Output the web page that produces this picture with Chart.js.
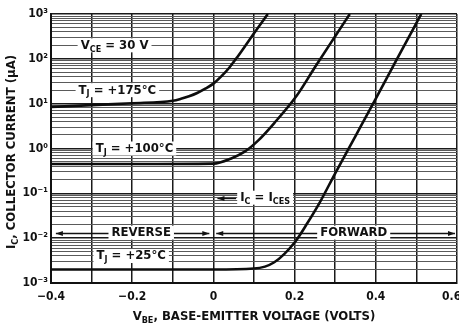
<!DOCTYPE html>
<html>
<head>
<meta charset="utf-8">
<script src="https://cdn.jsdelivr.net/npm/chart.js@4/dist/chart.umd.min.js"></script>
<style>
  html, body { margin: 0; padding: 0; background: #fff; }
  #wrap { width: 459px; height: 324px; }
</style>
</head>
<body>
<div id="wrap"><canvas id="chart" width="459" height="324"></canvas></div>
<script>
// Collector cutoff current I_C versus base-emitter voltage V_BE at V_CE = 30 V,
// one curve per junction temperature.
const vbe175 = [-0.4, -0.3, -0.2, -0.1, -0.08, -0.06, -0.04, -0.02, 0, 0.02, 0.04, 0.06, 0.08, 0.1, 0.134];
const ic175  = [8.4, 9.3, 10.2, 11.6, 12.8, 14.6, 17.3, 21.6, 28, 41, 65, 113, 204, 372, 1000];

const vbe100 = [-0.4, -0.2, 0, 0.044, 0.077, 0.11, 0.15, 0.205, 0.25, 0.3, 0.336];
const ic100  = [0.45, 0.45, 0.46, 0.6, 0.85, 1.5, 3.7, 15, 65, 320, 1000];

const vbe25  = [-0.4, 0, 0.1, 0.15, 0.2, 0.232, 0.26, 0.3, 0.35, 0.4, 0.45, 0.512];
const ic25   = [0.002, 0.002, 0.0021, 0.0029, 0.008, 0.022, 0.058, 0.28, 1.9, 13, 91, 1000];

// Axis ticks
const yDecades      = [1e-3, 1e-2, 1e-1, 1e0, 1e1, 1e2, 1e3];
const yDecadeLabels = ['10\u207B\u00B3', '10\u207B\u00B2', '10\u207B\u00B9', '10\u2070', '10\u00B9', '10\u00B2', '10\u00B3'];
const yMinorSteps   = [2, 3, 4, 5, 6, 7, 8, 9];
const xLabelValues  = [-0.4, -0.2, 0, 0.2, 0.4, 0.6];
// the last label is padded on its right so it sits inside the canvas edge
const xLabelTexts   = ['\u22120.4', '\u22120.2', '0', '0.2', '0.4', '0.6\u2002\u2002'];

const FAMILY = "'Liberation Sans Narrow', 'DejaVu Sans Condensed', 'Arial Narrow', sans-serif";
const INK = '#111';

function font(size) { return 'bold ' + size + 'px ' + FAMILY; }

function toPoints(xs, ys) { return xs.map((x, i) => ({ x: x, y: ys[i] })); }

function isDecade(v) { return Math.abs(Math.log10(v) - Math.round(Math.log10(v))) < 1e-9; }

// Text made of runs, some of them subscripted
function richWidth(ctx, parts, size) {
  let w = 0;
  for (const [t, sub] of parts) {
    ctx.font = font(sub ? Math.round(size * 0.72) : size);
    w += ctx.measureText(t).width;
  }
  return w;
}
function drawRich(ctx, parts, x, y, size) {
  let cx = x;
  ctx.textAlign = 'left';
  ctx.textBaseline = 'middle';
  for (const [t, sub] of parts) {
    ctx.font = font(sub ? Math.round(size * 0.72) : size);
    ctx.fillText(t, cx, sub ? y + size * 0.3 : y);
    cx += ctx.measureText(t).width;
  }
}

// Labels inside the plot, anchored at their left edge in data units
const notes = [
  { parts: [['V'], ['CE', 1], [' = 30 V']],        vbe: -0.327, ic: 200 },
  { parts: [['T'], ['J', 1], [' = +175\u00B0C']],   vbe: -0.332, ic: 20 },
  { parts: [['T'], ['J', 1], [' = +100\u00B0C']],   vbe: -0.290, ic: 1 },
  { parts: [['I'], ['C', 1], [' = I'], ['CES', 1]], vbe: 0.066,  ic: 0.08 },
  { parts: [['REVERSE']],                           vbe: -0.251, ic: 0.0133 },
  { parts: [['FORWARD']],                           vbe: 0.263,  ic: 0.0133 },
  { parts: [['T'], ['J', 1], [' = +25\u00B0C']],    vbe: -0.288, ic: 0.004 }
];
// Arrows: from -> to, with heads at the listed ends
const arrows = [
  { from: 0.056,  to: 0.010, ic: 0.078,  heads: ['to'] },
  { from: -0.388, to: -0.010, ic: 0.0133, heads: ['from', 'to'] },
  { from: 0.007,  to: 0.595, ic: 0.0133, heads: ['from', 'to'] }
];

function arrowHead(ctx, x, y, dir) {
  ctx.beginPath();
  ctx.moveTo(x, y);
  ctx.lineTo(x - dir * 7, y - 2.6);
  ctx.lineTo(x - dir * 7, y + 2.6);
  ctx.closePath();
  ctx.fill();
}

const notesPlugin = {
  id: 'notes',
  beforeDatasetsDraw(chart) {
    const ctx = chart.ctx, xs = chart.scales.x, ys = chart.scales.y;
    ctx.save();
    ctx.strokeStyle = INK;
    ctx.fillStyle = INK;
    ctx.lineWidth = 1.4;
    for (const a of arrows) {
      const x1 = xs.getPixelForValue(a.from), x2 = xs.getPixelForValue(a.to);
      const y = Math.round(ys.getPixelForValue(a.ic)) + 0.5;
      ctx.beginPath(); ctx.moveTo(x1, y); ctx.lineTo(x2, y); ctx.stroke();
      if (a.heads.includes('to')) arrowHead(ctx, x2, y, Math.sign(x2 - x1));
      if (a.heads.includes('from')) arrowHead(ctx, x1, y, Math.sign(x1 - x2));
    }
    const size = 13;
    for (const n of notes) {
      const x = xs.getPixelForValue(n.vbe);
      const y = ys.getPixelForValue(n.ic);
      const w = richWidth(ctx, n.parts, size);
      ctx.fillStyle = '#fff';
      ctx.fillRect(x - 3, y - 7, w + 6, 14);
      ctx.fillStyle = INK;
      drawRich(ctx, n.parts, x, y, size);
    }
    ctx.restore();
  },
  afterDraw(chart) {
    const ctx = chart.ctx, area = chart.chartArea;
    ctx.save();
    ctx.fillStyle = INK;
    const size = 13;
    const xt = [['V'], ['BE', 1], [', BASE-EMITTER VOLTAGE (VOLTS)']];
    const wx = richWidth(ctx, xt, size);
    drawRich(ctx, xt, (area.left + area.right) / 2 - wx / 2, 317, size);
    const yt = [['I'], ['C', 1], [', COLLECTOR CURRENT (\u03BCA)']];
    const wy = richWidth(ctx, yt, size);
    ctx.translate(12, 152);
    ctx.rotate(-Math.PI / 2);
    drawRich(ctx, yt, -wy / 2, 0, size);
    ctx.restore();
  }
};

const curveStyle = {
  borderColor: '#0d0d0d',
  borderWidth: 2.6,
  pointRadius: 0,
  fill: false,
  cubicInterpolationMode: 'monotone'
};

new Chart(document.getElementById('chart'), {
  type: 'line',
  data: {
    datasets: [
      Object.assign({ label: 'TJ = +175\u00B0C', data: toPoints(vbe175, ic175) }, curveStyle),
      Object.assign({ label: 'TJ = +100\u00B0C', data: toPoints(vbe100, ic100) }, curveStyle),
      Object.assign({ label: 'TJ = +25\u00B0C',  data: toPoints(vbe25, ic25) }, curveStyle)
    ]
  },
  options: {
    responsive: false,
    devicePixelRatio: 1,
    animation: false,
    layout: { padding: { left: 0, right: 2, top: 14, bottom: 0 } },
    plugins: { legend: { display: false }, tooltip: { enabled: false } },
    scales: {
      x: {
        type: 'linear',
        min: -0.4,
        max: 0.6,
        ticks: {
          stepSize: 0.1,
          autoSkip: false,
          maxRotation: 0,
          padding: 7,
          color: INK,
          font: { family: FAMILY, size: 12, weight: 'bold' },
          callback: (v) => {
            const i = xLabelValues.findIndex(t => Math.abs(t - v) < 1e-6);
            return i < 0 ? '' : xLabelTexts[i];
          }
        },
        grid: { color: '#1a1a1a', lineWidth: 1.5, drawTicks: false },
        border: { color: INK, width: 2 },
        afterFit(s) { s.height = 41; s.paddingLeft = 0; s.paddingRight = 0; }
      },
      y: {
        type: 'logarithmic',
        min: 1e-3,
        max: 1e3,
        afterBuildTicks(s) {
          const t = [];
          yDecades.forEach((d, i) => {
            t.push({ value: d, major: true });
            if (i < yDecades.length - 1) yMinorSteps.forEach(m => t.push({ value: d * m, major: false }));
          });
          s.ticks = t;
        },
        ticks: {
          autoSkip: false,
          padding: 3,
          color: INK,
          font: { family: FAMILY, size: 12, weight: 'bold' },
          callback: (v) => {
            const i = yDecades.findIndex(d => Math.abs(d - v) / d < 1e-6);
            return i < 0 ? '' : yDecadeLabels[i];
          }
        },
        grid: {
          color: (c) => (c.tick && isDecade(c.tick.value)) ? '#1a1a1a' : '#5a5a5a',
          lineWidth: (c) => (c.tick && isDecade(c.tick.value)) ? 1.5 : 1.1,
          drawTicks: false
        },
        border: { color: INK, width: 2 },
        afterFit(s) { s.width = 51; s.paddingTop = 0; s.paddingBottom = 0; }
      }
    }
  },
  plugins: [notesPlugin]
});
</script>
</body>
</html>
